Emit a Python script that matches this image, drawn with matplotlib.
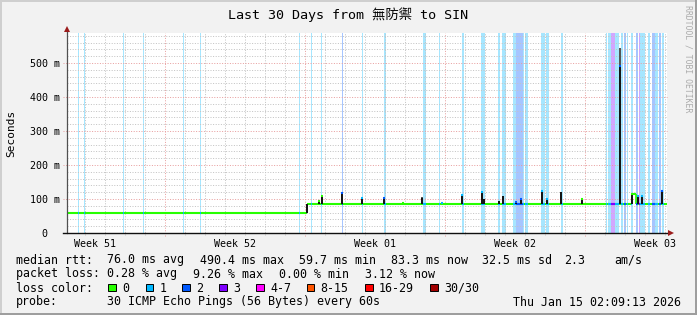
import numpy as np
import matplotlib
matplotlib.use("Agg")
import matplotlib.pyplot as plt
from matplotlib.patches import Rectangle

# ---------------- data ----------------
title = "Last 30 Days from 無防禦 to SIN"
week_labels = ["Week 51", "Week 52", "Week 01", "Week 02", "Week 03"]
y_ticks_ms = [0, 100, 200, 300, 400, 500]
y_tick_labels = ["0\u00a0\u00a0", "100 m", "200 m", "300 m", "400 m", "500 m"]

# median rtt level (ms), each level holds from its start day until the next
median_days = [0.0, 12.0, 28.235, 28.44]
median_ms = [59.7, 84.0, 115.0, 84.0]

# loss periods (days from start of graph) and lost-ping count class
loss_start = [0.55, 0.85, 2.80, 3.80, 5.80, 6.635, 11.60, 12.20, 12.70, 13.75,
              14.735, 15.835, 17.80, 18.585, 19.765, 20.70, 21.55, 21.765, 22.285, 22.435,
              22.815, 22.915, 23.70, 23.935, 24.70, 26.935, 27.065, 27.185, 27.385, 27.70,
              27.85, 28.00, 28.215, 28.435, 28.585, 28.65, 29.065, 29.25, 29.415, 29.585,
              29.735]
loss_end = [0.615, 0.915, 2.865, 3.865, 5.865, 6.70, 11.665, 12.265, 12.765, 13.815,
            14.815, 15.95, 17.935, 18.65, 19.85, 20.90, 21.665, 21.935, 22.435, 22.815,
            22.865, 23.035, 23.885, 24.085, 24.815, 27.00, 27.185, 27.385, 27.60, 27.815,
            27.95, 28.065, 28.285, 28.535, 28.635, 28.90, 29.165, 29.415, 29.535, 29.685,
            29.865]
loss_level = [1, 1, 1, 1, 1, 1, 1, 1, 1, 2,
              1, 1, 1, 1, 1, 1, 1, 1, 1, 2,
              1, 1, 1, 1, 1, 1, 1, 3, 1, 1,
              2, 1, 1, 2, 3, 1, 1, 2, 1, 2,
              1]

# smoke (ping spread) columns: day, low, dark top, light top (ms)
spike_day = [12.0, 12.6, 12.735, 13.735, 14.735, 15.835, 16.785, 17.765, 18.735, 19.75,
             20.735, 20.825, 21.615, 21.785, 22.45, 22.685, 23.735, 23.985, 24.70, 25.75,
             27.635, 28.235, 28.55, 28.735, 29.735]
spike_low = [59.7, 84, 84, 84, 84, 84, 84, 84, 84, 84,
             84, 84, 84, 84, 84, 84, 84, 84, 84, 84,
             84, 84, 84, 84, 84]
spike_core = [84, 95, 108, 115, 103, 102, 88, 104, 88, 110,
              118, 100, 95, 108, 92, 98, 122, 100, 120, 97,
              490, 115, 108, 108, 122]
spike_high = [85, 95, 110, 117, 104, 104, 88, 107, 88, 112,
              120, 100, 95, 110, 92, 99, 124, 100, 121, 99,
              543, 115, 110, 110, 124]
# median peak inside the column and its loss class (-1: no visible tip)
spike_tip = [84, 95, 110, 117, 104, 104, 88, 107, 88, 112,
             120, 100, 95, 110, 92, 99, 124, 100, 121, 99,
             490, 115, 110, 110, 124]
spike_tip_level = [-1, 0, 0, 2, 1, 2, 0, -1, 1, 1,
                   1, -1, -1, -1, 2, 2, 1, 1, -1, 0,
                   2, 0, 1, 1, 2]

stats_median = {"avg": 76.0, "max": 490.4, "min": 59.7, "now": 83.3, "sd": 32.5, "ams": 2.3}
stats_loss = {"avg": 0.28, "max": 9.26, "min": 0.00, "now": 3.12}
legend_labels = ["0", "1", "2", "3", "4-7", "8-15", "16-29", "30/30"]
legend_colors = ["#26ff00", "#00b8ff", "#0059ff", "#7e00ff", "#ff00ff", "#ff5500", "#ff0000", "#a10000"]
probe_text = "30 ICMP Echo Pings (56 Bytes) every 60s"
stamp_text = "Thu Jan 15 02:09:13 2026"

# ---------------- style ----------------
W, H = 697, 315
MONO = "DejaVu Sans Mono"
BG = "#F2F2F2"
loss_color = {0: "#26ff00", 1: "#00b8ff", 2: "#0059ff", 3: "#7e00ff"}


def light(c, a=0.35):
    r, g, b = matplotlib.colors.to_rgb(c)
    return (1 - a + a * r, 1 - a + a * g, 1 - a + a * b)


def fx(px):
    return px / W


def fy(py):
    return 1 - py / H


fig = plt.figure(figsize=(W / 100, H / 100), dpi=100, facecolor=BG)
ax = fig.add_axes([fx(67), fy(233), 600 / W, 200 / H])
ax.set_facecolor("white")
ax.set_xlim(0, 30)
ax.set_ylim(0, 588)
for s in ax.spines.values():
    s.set_visible(False)

# loss background
for s, e, l in zip(loss_start, loss_end, loss_level):
    ax.axvspan(s, e, color=light(loss_color[l]), lw=0, zorder=0.5)

# grid
first_midnight = 0.885
days = first_midnight + np.arange(30)
sundays = first_midnight + 4 + 7 * np.arange(4)
minor_days = [d for d in days if not np.any(np.isclose(d, sundays))]
dots = (0, (1, 1.6))
ax.vlines(minor_days, -0.012, 1, transform=ax.get_xaxis_transform(), colors="#c4c4c4",
          linestyles=dots, lw=0.72, clip_on=False, zorder=1)
ax.vlines(sundays, -0.015, 1, transform=ax.get_xaxis_transform(), colors="#e8a0a0",
          linestyles=dots, lw=0.72, clip_on=False, zorder=1)
ys = np.arange(20, 588, 20)
ax.hlines([y for y in ys if y % 100], 0, 1, transform=ax.get_yaxis_transform(), colors="#c4c4c4",
          linestyles=dots, lw=0.72, zorder=1)
ax.hlines([y for y in ys if y % 100 == 0], -0.007, 1, transform=ax.get_yaxis_transform(),
          colors="#e8a0a0", linestyles=dots, lw=0.72, clip_on=False, zorder=1)

# median line, green baseline then loss-coloured parts
seg_end = median_days[1:] + [30.0]
for a, b, v in zip(median_days, seg_end, median_ms):
    ax.hlines(v, a, b, colors=loss_color[0], lw=1.5, zorder=2)
for i in range(2, len(median_days)):
    ax.vlines(median_days[i], min(median_ms[i - 1], median_ms[i]), max(median_ms[i - 1], median_ms[i]),
              colors=loss_color[0], lw=1.2, zorder=2)
for s, e, l in zip(loss_start, loss_end, loss_level):
    for a, b, v in zip(median_days, seg_end, median_ms):
        lo, hi = max(s, a), min(e, b)
        if hi > lo:
            ax.hlines(v, lo, hi, colors=loss_color[l], lw=1.5, zorder=2.5)

# smoke columns
sd = np.array(spike_day)
ax.bar(sd, np.array(spike_high) - np.array(spike_low), bottom=spike_low, width=0.1,
       color="#555555", lw=0, zorder=3)
ax.bar(sd, np.array(spike_core) - np.array(spike_low), bottom=spike_low, width=0.1,
       color="#141414", lw=0, zorder=3.1)
for d, t, l in zip(spike_day, spike_tip, spike_tip_level):
    if l >= 0:
        ax.hlines(t, d - 0.04, d + 0.04, colors=loss_color[l], lw=1.5, zorder=4)

# axes lines and arrows
ax.plot([0, 0], [-0.0, 1.015], transform=ax.transAxes, color="#505050", lw=0.9, clip_on=False, zorder=5)
ax.plot([-0.007, 1.0], [0, 0], transform=ax.transAxes, color="#101010", lw=1.0, clip_on=False, zorder=5)
ax.plot([0], [1.0225], marker="^", ms=4.6, color="#9b1c1c", mew=0, transform=ax.transAxes, clip_on=False, zorder=6)
ax.plot([1.0067], [0], marker=">", ms=4.6, color="#9b1c1c", mew=0, transform=ax.transAxes, clip_on=False, zorder=6)

# ticks
ax.set_yticks(y_ticks_ms)
ax.set_yticklabels(y_tick_labels, family=MONO, fontsize=7.2)
ax.set_xticks(first_midnight + 0.5 + 7 * np.arange(len(week_labels)))
ax.set_xticklabels(week_labels, family=MONO, fontsize=7.2)
ax.tick_params(axis="y", length=0, pad=5)
ax.tick_params(axis="x", length=0, pad=4)

# texts
fig.text(0.5, fy(18.5), title, ha="center", va="baseline", fontsize=9.6,
         family=[MONO, "Noto Sans CJK TC"])
fig.text(fx(11), fy(133), "Seconds", rotation=90, ha="center", va="center", fontsize=8, family=MONO)
fig.text(fx(688), fy(5), "RRDTOOL / TOBI OETIKER", rotation=270, ha="center", va="top",
         fontsize=5.9, color="#ababab", family=MONO)

LF = 8.4
m = stats_median
pl = stats_loss
row1 = [("median rtt:", 16), (f"{m['avg']:.1f} ms avg", 107.3), (f"{m['max']:.1f} ms max", 200),
        (f"{m['min']:.1f} ms min", 299), (f"{m['now']:.1f} ms now", 391), (f"{m['sd']:.1f} ms sd", 482),
        (f"{m['ams']:.1f}", 564), ("am/s", 614)]
row2 = [("packet loss:", 16), (f"{pl['avg']:.2f} % avg", 107.3), (f"{pl['max']:.2f} % max", 193),
        (f"{pl['min']:.2f} % min", 279.3), (f"{pl['now']:.2f} % now", 365)]
for row, base in ((row1, 263.5), (row2, 277.5)):
    for txt, x in row:
        fig.text(fx(x), fy(base), txt, ha="left", va="baseline", fontsize=LF, family=MONO)
fig.text(fx(16), fy(291.5), "loss color:", ha="left", va="baseline", fontsize=LF, family=MONO)
box_x = [108.3, 145.7, 182.3, 219, 256, 306.7, 365, 430]
for bx, lab, col in zip(box_x, legend_labels, legend_colors):
    fig.patches.append(Rectangle((fx(bx), fy(291)), 7.5 / W, 7.5 / H, transform=fig.transFigure,
                                 facecolor=col, edgecolor="black", lw=0.7))
    fig.text(fx(bx + 14), fy(291.5), lab, ha="left", va="baseline", fontsize=LF, family=MONO)
fig.text(fx(16), fy(305.5), "probe:", ha="left", va="baseline", fontsize=LF, family=MONO)
fig.text(fx(107.3), fy(305.5), probe_text, ha="left", va="baseline", fontsize=LF, family=MONO)
fig.text(fx(681), fy(305.5), stamp_text, ha="right", va="baseline", fontsize=LF, family=MONO)

# 3D border
for (x0, y0, w, h, c) in [(0, 0, W, 2, "#cfcfcf"), (0, 0, 2, H, "#cfcfcf"),
                          (0, H - 2, W, 2, "#9e9e9e"), (W - 2, 0, 2, H, "#9e9e9e")]:
    fig.patches.append(Rectangle((fx(x0), fy(y0 + h)), w / W, h / H, transform=fig.transFigure,
                                 facecolor=c, edgecolor="none"))

fig.savefig("out.png", dpi=100, facecolor=BG)
